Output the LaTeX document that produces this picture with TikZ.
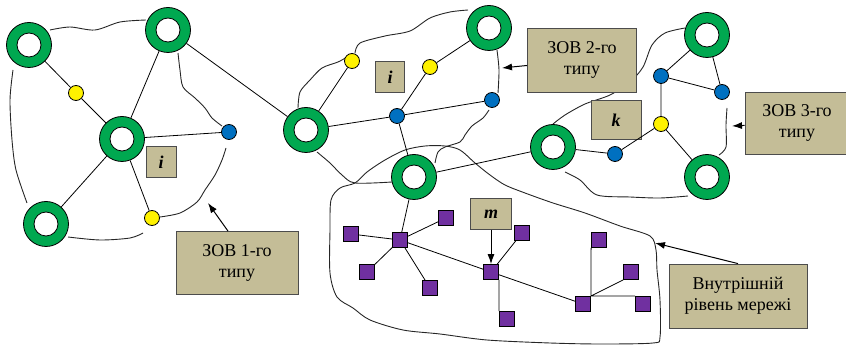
\documentclass[tikz,border=0pt]{standalone}
\usepackage{fontspec}
\setmainfont{Liberation Serif}
\usetikzlibrary{arrows,arrows.meta,shapes}
\usetikzlibrary{backgrounds}
\definecolor{ringgreen}{RGB}{0,168,80}
\definecolor{netblue}{RGB}{0,112,192}
\definecolor{netpurple}{RGB}{112,48,160}
\definecolor{tanbox}{RGB}{196,189,151}

\begin{document}
\begin{tikzpicture}[x=1pt,y=-1pt]
\useasboundingbox (0,0) rectangle (846,352);
\begin{scope}
\tikzstyle{every node}=[inner sep=0pt, draw=black, line width=0.8pt];
\tikzstyle{ring}=[shape=circle, fill=ringgreen, minimum size=45pt, path picture={\filldraw[fill=white, draw=black, line width=0.8pt] (path picture bounding box.center) circle (12pt);}]
\tikzstyle{ydot}=[shape=circle, fill=yellow, minimum size=15pt]
\tikzstyle{bdot}=[shape=circle, fill=netblue, minimum size=15pt]
\tikzstyle{sq}=[shape=rectangle, fill=netpurple, minimum size=15pt]
\tikzstyle{lbl}=[shape=rectangle, fill=tanbox, draw=black!70, align=center, font=\fontsize{18}{21}\selectfont]
\tikzstyle{curve}=[line width=0.9pt, black!85]
\tikzstyle{pointer}=[-{Latex[length=10pt,width=7pt]}, line width=1pt]

\draw (29,45) node[ring] (r1) {};
\draw (168,30) node[ring] (r2) {};
\draw (122,139) node[ring] (r3) {};
\draw (46,224) node[ring] (r4) {};
\draw (306,130) node[ring] (r5) {};
\draw (489,28) node[ring] (r6) {};
\draw (414,177) node[ring] (r7) {};
\draw (553,147) node[ring] (r8) {};
\draw (707,35) node[ring] (r9) {};
\draw (707,177) node[ring] (r10) {};

\draw (76,93) node[ydot] (y1) {};
\draw (152,218) node[ydot] (y2) {};
\draw (352,61) node[ydot] (y3) {};
\draw (430,67) node[ydot] (y4) {};
\draw (661,124) node[ydot] (y5) {};

\draw (229,132) node[bdot] (b1) {};
\draw (397,116) node[bdot] (b2) {};
\draw (492,100) node[bdot] (b3) {};
\draw (661,76) node[bdot] (b4) {};
\draw (722,92) node[bdot] (b5) {};
\draw (615,154) node[bdot] (b6) {};

\draw (400,240) node[sq] (p1) {};
\draw (351,234) node[sq] (p2) {};
\draw (446,218) node[sq] (p3) {};
\draw (367,272) node[sq] (p4) {};
\draw (430,288) node[sq] (p5) {};
\draw (491,272) node[sq] (p6) {};
\draw (522,233) node[sq] (p7) {};
\draw (507,319) node[sq] (p8) {};
\draw (583,304) node[sq] (p9) {};
\draw (599,240) node[sq] (p10) {};
\draw (631,272) node[sq] (p11) {};
\draw (643,304) node[sq] (p12) {};

\draw (161,162) node[lbl, minimum width=30pt, minimum height=31pt] (li1) {\textbf{\textit{i}}};
\draw (390,77) node[lbl, minimum width=29pt, minimum height=31pt] (li2) {\textbf{\textit{i}}};
\draw (616,120) node[lbl, minimum width=50pt, minimum height=39pt] (lk) {\textbf{\textit{k}}};
\draw (491,214) node[lbl, minimum width=41pt, minimum height=31pt] (lm) {\textbf{\textit{m}}};
\draw (237,263) node[lbl, minimum width=122pt, minimum height=63pt] (zov1) {ЗОВ 1-го\\типу};
\draw (582,60) node[lbl, minimum width=109pt, minimum height=64pt] (zov2) {ЗОВ 2-го\\типу};
\draw (797,123) node[lbl, minimum width=104pt, minimum height=62pt] (zov3) {ЗОВ 3-го\\типу};
\draw (738,296) node[lbl, minimum width=138pt, minimum height=64pt] (vr) {Внутрішній\\рівень мережі};

\draw[line width=0.8pt] (r1) -- (y1)
(y1) -- (r3)
(r2) -- (r3)
(r3) -- (b1)
(r3) -- (r4)
(r3) -- (y2)
(r2) -- (r5)
(r5) -- (y3)
(r5) -- (b2)
(b2) -- (b3)
(b2) -- (y4)
(y4) -- (r6)
(b2) -- (r7)
(r7) -- (r8)
(r8) -- (b6)
(b6) -- (y5)
(y5) -- (r10)
(b4) -- (y5)
(b4) -- (b5)
(b4) -- (r9)
(r9) -- (b5);
\draw[line width=0.8pt] (r7) -- (p1)
(p1) -- (p2)
(p1) -- (p3)
(p1) -- (p4)
(p1) -- (p5)
(p1) -- (p6)
(p6) -- (p7)
(p6.south east) -- (p6.south east |- p8.north)
(p6) -- (p9)
(p9.north east) -- (p10.south west)
(p9.north east) -- (p11.south west)
(p9.north east) -- (p12.north west);

\coordinate (t1) at (208,203);
\coordinate (t2) at (502,68);
\coordinate (t3) at (732,126);
\coordinate (t4) at (655,243);
\draw[pointer] ([xshift=-9pt]zov1.north) -- (t1);
\draw[pointer] (zov2) -- (t2);
\draw[pointer] (zov3) -- (t3);
\draw[pointer] (vr.north) -- (t4);
\draw[pointer] (lm) -- (p6);

\begin{scope}[on background layer]
\draw[curve] plot[smooth] coordinates {(50,30) (70,27) (95,30) (120,22) (146,20)};
\draw[curve] plot[smooth] coordinates {(13,70) (10,100) (12,140) (16,170) (27,203)};
\draw[curve] plot[smooth] coordinates {(68,237) (100,240) (130,238) (143,233)};
\draw[curve] plot[smooth] coordinates {(160,217) (180,213) (197,202) (205,190) (215,175) (222,160) (226,148)};
\draw[curve] plot[smooth] coordinates {(178,53) (180,70) (183,87) (195,98) (205,108) (212,118) (222,126)};
\draw[curve] plot[smooth] coordinates {(298,108) (300,92) (310,80) (322,68) (338,62) (347,57)};
\draw[curve] plot[smooth] coordinates {(355,53) (360,43) (385,36) (410,31) (430,18) (450,12) (468,10)};
\draw[curve] plot[smooth] coordinates {(497,50) (499,70) (498,93)};
\draw[curve] plot[smooth] coordinates {(489,110) (483,118) (472,126) (465,135) (460,142) (445,147) (438,152) (435,163)};
\draw[curve] plot[smooth] coordinates {(317,152) (330,163) (342,175) (355,183) (392,182)};
\draw[curve] plot[smooth] coordinates {(685,28) (665,33) (652,45) (643,67) (630,82) (610,95) (585,104) (565,115) (553,124)};
\draw[curve] plot[smooth] coordinates {(565,172) (580,180) (597,195) (630,197) (660,198) (688,196)};
\draw[curve] plot[smooth] coordinates {(727,108) (726,125) (726,147) (719,155)};
\draw[curve] plot[smooth cycle] coordinates {(330,230) (331,200) (340,188) (355,183) (367,172) (385,160) (405,150) (425,146) (445,146) (460,150) (475,163) (490,175) (505,185) (525,193) (553,203) (585,213) (620,226) (650,236) (656,250) (657,270) (660,300) (660,337) (653,343) (600,344) (550,343) (487,340) (440,334) (403,330) (370,320) (353,308) (337,297) (330,273)};
\end{scope}
\end{scope}
\end{tikzpicture}
\end{document}
